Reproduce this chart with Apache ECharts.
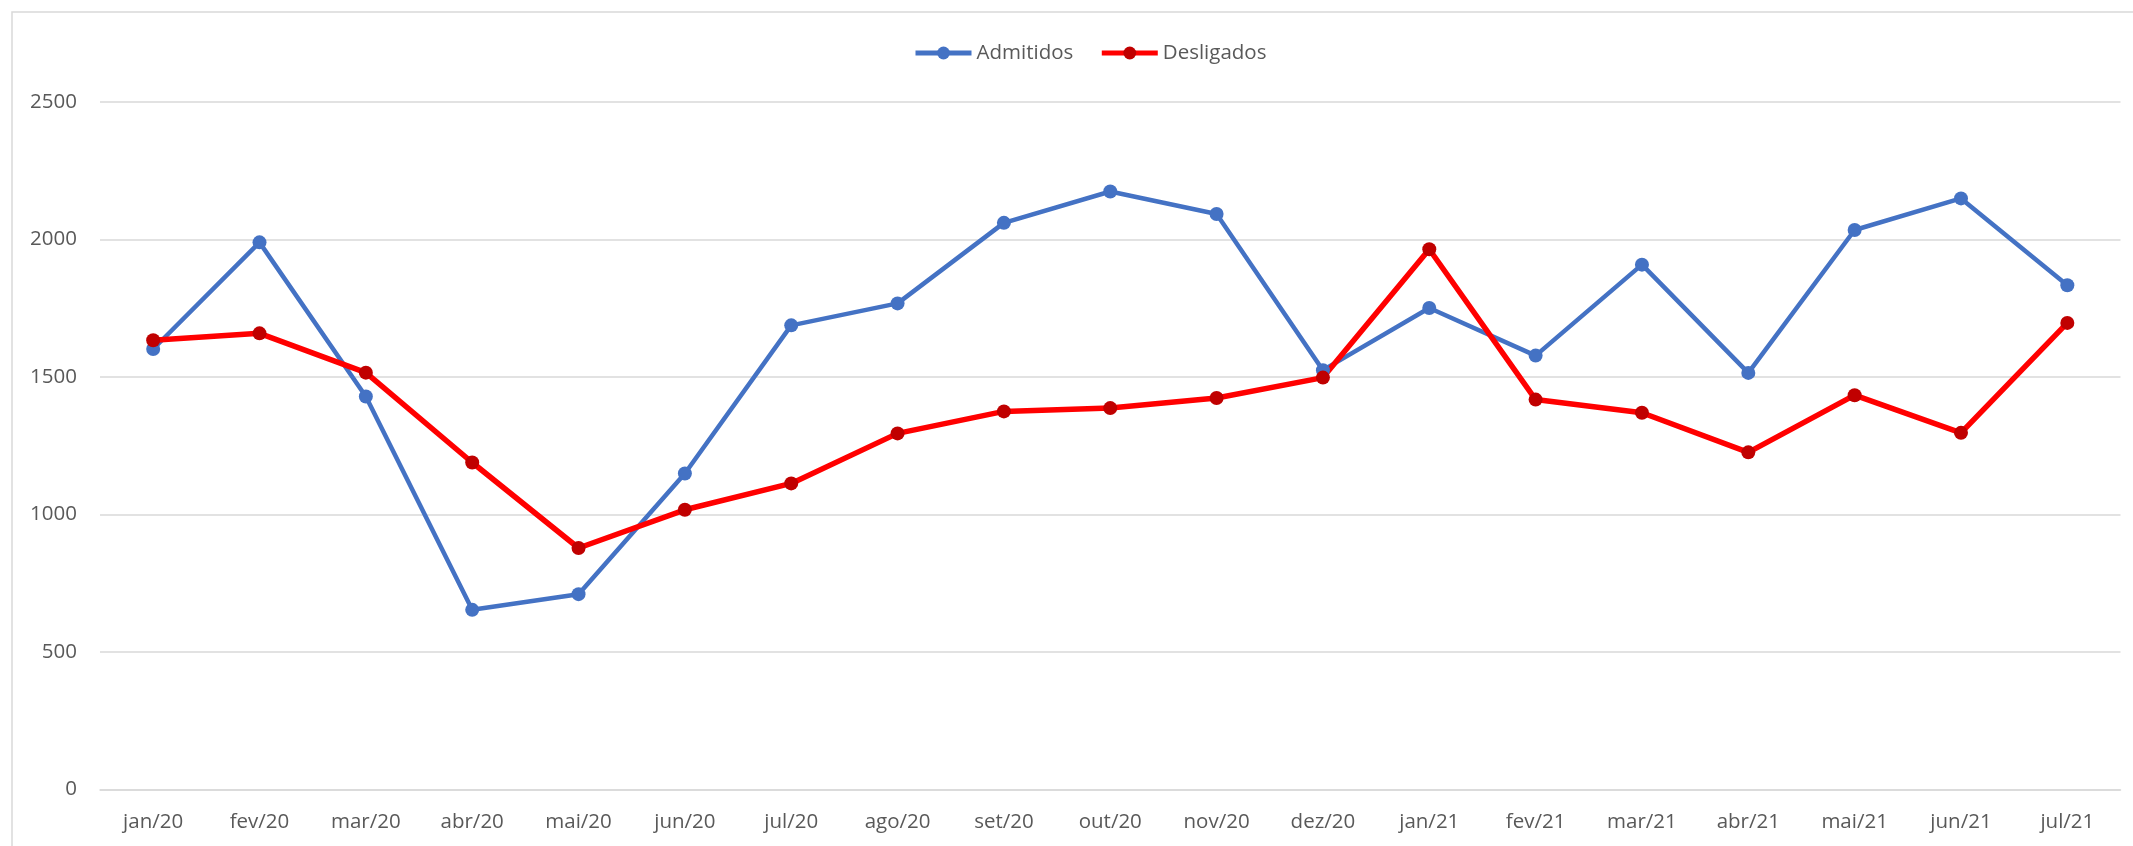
<!DOCTYPE html>
<html>
<head>
<meta charset="utf-8">
<script src="https://cdn.jsdelivr.net/npm/echarts@6/dist/echarts.min.js"></script>
<style>
  html, body { margin: 0; padding: 0; background: #ffffff; }
  #chart { width: 2133px; height: 846px; }
</style>
</head>
<body>
<div id="chart"></div>
<script>
const categories = ['jan/20','fev/20','mar/20','abr/20','mai/20','jun/20','jul/20','ago/20','set/20','out/20','nov/20','dez/20','jan/21','fev/21','mar/21','abr/21','mai/21','jun/21','jul/21'];
const admitidos = [1602,1990,1429,653,710,1149,1688,1768,2061,2175,2093,1525,1751,1578,1909,1515,2035,2150,1834];
const desligados = [1634,1659,1516,1189,878,1017,1113,1295,1375,1387,1424,1498,1965,1418,1370,1226,1434,1297,1697];
const yTicks = { min: 0, max: 2500, interval: 500 };

const FONT = '"Open Sans", "Liberation Sans", sans-serif';
const chart = echarts.init(document.getElementById('chart'), null, { renderer: 'canvas' });
chart.setOption({
  animation: false,
  backgroundColor: '#ffffff',
  graphic: [{
    type: 'rect',
    shape: { x: 12, y: 12, width: 2300, height: 1000 },
    style: { fill: 'none', stroke: '#D9D9D9', lineWidth: 1.5 },
    silent: true
  }],
  legend: {
    left: 908,
    top: 36,
    itemWidth: 56,
    itemHeight: 16,
    itemGap: 26,
    lineStyle: { width: 5 },
    textStyle: { color: '#595959', fontFamily: FONT, fontSize: 20.5, lineHeight: 24 },
    data: ['Admitidos', 'Desligados']
  },
  grid: { left: 100, right: 12.5, top: 102.2, bottom: 56.7, containLabel: false },
  xAxis: {
    type: 'category',
    data: categories,
    boundaryGap: true,
    axisTick: { show: false },
    axisLine: { show: true, lineStyle: { color: '#D9D9D9', width: 1.5 } },
    axisLabel: { color: '#595959', fontFamily: FONT, fontSize: 20.5, lineHeight: 24, margin: 21 },
    splitLine: { show: false }
  },
  yAxis: {
    type: 'value',
    min: yTicks.min,
    max: yTicks.max,
    interval: yTicks.interval,
    axisLine: { show: false },
    axisTick: { show: false },
    axisLabel: { color: '#595959', fontFamily: FONT, fontSize: 20.5, margin: 23, formatter: function (v) { return String(v); } },
    splitLine: { show: true, lineStyle: { color: '#D9D9D9', width: 1.5 } }
  },
  series: [
    {
      name: 'Admitidos',
      type: 'line',
      data: admitidos,
      symbol: 'circle',
      symbolSize: 14,
      lineStyle: { color: '#4472C4', width: 4.5 },
      itemStyle: { color: '#4472C4' }
    },
    {
      name: 'Desligados',
      type: 'line',
      data: desligados,
      symbol: 'circle',
      symbolSize: 14,
      lineStyle: { color: '#FF0000', width: 5.5 },
      itemStyle: { color: '#C00000' }
    }
  ]
});
</script>
</body>
</html>
